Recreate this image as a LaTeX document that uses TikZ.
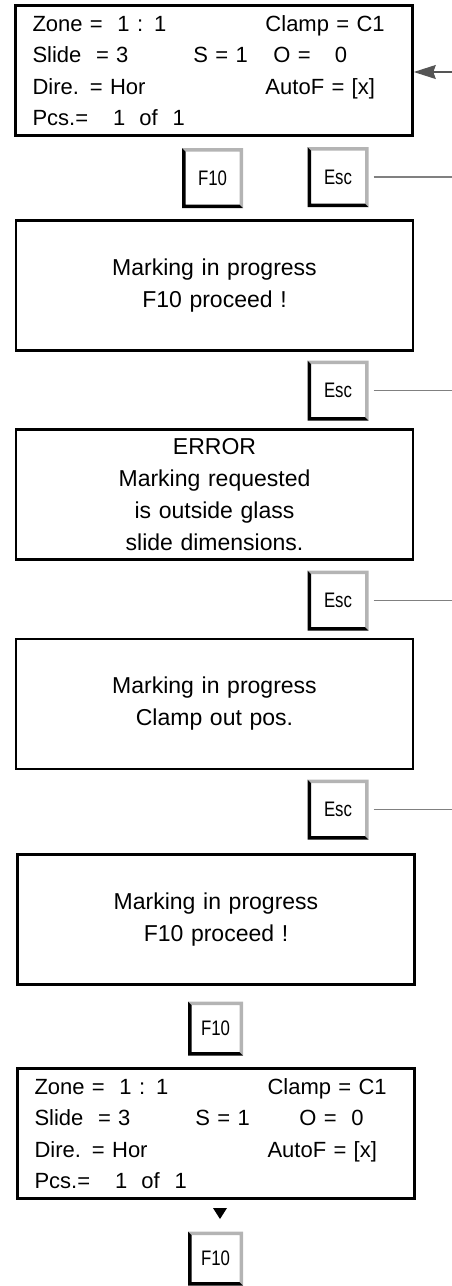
\documentclass[tikz,border=0pt]{standalone}
\usepackage{xcolor}
\usepackage{fontspec}
\usepackage{tikz}
\usetikzlibrary{positioning, arrows.meta, calc}
\setmainfont{Liberation Sans}
\newfontfamily\keyfont[FakeStretch=0.8]{Liberation Sans}
\definecolor{keygray}{HTML}{B4B4B4}
\definecolor{wiregray}{HTML}{808080}
\definecolor{tipgray}{HTML}{555555}

\def\ppbb{path picture bounding box}
\newcommand{\statusscreen}[2]{%
  \makebox[233pt][l]{Zone =\ \ 1 : 1}Clamp = C1\\
  \makebox[161pt][l]{Slide\ \ = 3}\makebox[#1][l]{S = 1}#2\\
  \makebox[233pt][l]{Dire. = Hor}AutoF = [x]\\
  Pcs.=\hspace{25pt}1\hspace{14pt}of\hspace{15pt}1}

\tikzset{
  screen/.style={draw, line width=2.6pt, minimum width=397pt, minimum height=130pt,
    inner xsep=17pt, inner ysep=0pt, text width=363pt, align=left,
    font=\fontsize{22}{31.5}\selectfont},
  msgbox/.style={draw, line width=2.6pt, minimum width=397pt, minimum height=130pt,
    inner sep=0pt, text width=380pt, align=center,
    font=\fontsize{23}{32}\selectfont},
  keycap/.style={fill=white, minimum width=61pt, minimum height=60pt, inner sep=0pt,
    font=\keyfont\fontsize{21}{21}\selectfont,
    path picture={
      \fill[keygray] (\ppbb.north west) -- (\ppbb.north east) -- (\ppbb.south east)
        -- ++(-3.5pt,3.5pt) |- ([shift={(3.5pt,-3.5pt)}]\ppbb.north west) -- cycle;
      \fill[black] (\ppbb.north west) -- ++(3.5pt,-3.5pt)
        |- ([shift={(-3.5pt,3.5pt)}]\ppbb.south east) -- (\ppbb.south east)
        -- (\ppbb.south west) -- cycle;}},
  smallkey/.style={keycap, minimum width=55pt, minimum height=54pt},
  wire/.style={draw=wiregray, line width=1.3pt},
  feed/.style={draw=tipgray, line width=1.3pt, -{Stealth[length=22pt, width=14pt, inset=2.5pt]}}
}

\begin{document}
\begin{tikzpicture}[x=1pt, y=1pt]
  \useasboundingbox (0,0) rectangle (452,-1286);
  \coordinate (rim) at (452,0);

  % screens
  \node[screen] (dispA) at (214,-70.5) {\statusscreen{80pt}{O =\hspace{24pt}0}};
  \node[msgbox] (msgA) at (214.5,-285.5) {Marking in progress\\F10 proceed !};
  \node[msgbox] (errA) at (214.5,-494.5) {ERROR\\Marking requested\\is outside glass\\slide dimensions.};
  \node[msgbox] (msgB) at (214.5,-704) {Marking in progress\\Clamp out pos.};
  \node[msgbox] (msgC) at (216,-919.5) {Marking in progress\\F10 proceed !};
  \node[screen] (dispB) at (216,-1133.5) {\statusscreen{104pt}{O =\ \ 0}};

  % keys
  \node[keycap] (fkeyA) at (212.5,-178) {F10};
  \node[keycap] (escA) at (338,-177) {Esc};
  \node[keycap] (escB) at (338,-390.5) {Esc};
  \node[keycap] (escC) at (338,-600.5) {Esc};
  \node[keycap] (escD) at (338,-809.5) {Esc};
  \node[smallkey] (fkeyB) at (215.5,-1028.5) {F10};
  \node[smallkey] (fkeyC) at (215.5,-1258.5) {F10};

  % way back in / out
  \coordinate (back) at (452,-72);
  \draw[feed] (back) -- (back -| dispA.east);
  \foreach \k in {escA, escB, escC, escD}
    \draw[wire] ([xshift=5pt]\k.east) -- (\k.east -| rim);

  \fill (213,-1208) -- (227,-1208) -- (220,-1219) -- cycle;
\end{tikzpicture}
\end{document}
